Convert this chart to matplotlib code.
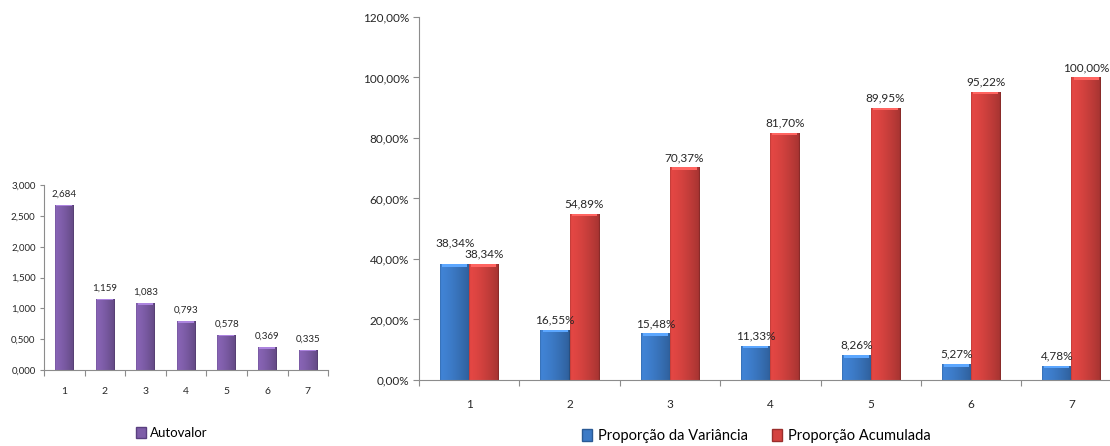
import numpy as np
import matplotlib
matplotlib.use("Agg")
import matplotlib.pyplot as plt
from matplotlib.colors import to_rgb
from matplotlib.patches import Patch

# data
componentes = ["1", "2", "3", "4", "5", "6", "7"]
autovalor = [2.684, 1.159, 1.083, 0.793, 0.578, 0.369, 0.335]
prop_variancia = [38.34, 16.55, 15.48, 11.33, 8.26, 5.27, 4.78]
prop_acumulada = [38.34, 54.89, 70.37, 81.70, 89.95, 95.22, 100.00]

PURPLE = "#7E5DA8"
BLUE = "#3C7AC6"
RED = "#D4423F"
AXIS = "#8C8C8C"
TEXT = "#262626"

plt.rcParams["font.family"] = ["Lato", "DejaVu Sans"]
NARROW = ["Liberation Sans Narrow", "Lato", "DejaVu Sans"]


def br(fmt_str):
    return fmt_str.replace(".", ",")


def shade_bars(ax, bars, color):
    """paints a left-to-right gradient plus a light top bevel into each bar"""
    base = np.array(to_rgb(color))
    xs = np.linspace(0, 1, 64)
    light = 1.08 - 0.30 * xs ** 1.4
    light[:2] *= 0.85
    light[-2:] *= 0.8
    img = np.clip(base[None, None, :] * light[None, :, None], 0, 1)
    ymax = ax.get_ylim()[1]
    for b in bars:
        x0, y0 = b.get_x(), b.get_y()
        w, h = b.get_width(), b.get_height()
        im = ax.imshow(img, extent=(x0, x0 + w, y0, y0 + h), aspect="auto",
                       zorder=b.get_zorder() + 0.1, interpolation="bilinear")
        im.set_clip_path(b)
        b.set_facecolor("none")
        # top bevel
        top = np.clip(base * 1.2 + 0.08, 0, 1)
        bh = ymax * 0.007
        ax.bar(x0 + w / 2, bh, width=w * 0.86, bottom=y0 + h - bh, color=top,
               zorder=b.get_zorder() + 0.2, linewidth=0)
    ax.set_xlim(ax.get_xlim())


fig = plt.figure(figsize=(11.1, 4.46), dpi=100)

# ---- left chart: autovalores
ax1 = fig.add_axes([0.0396, 0.170, 0.256, 0.415])
x = np.arange(len(componentes)) + 1
ax1.set_ylim(0, 3.0)
ax1.set_xlim(0.5, 7.5)
bars1 = ax1.bar(x, autovalor, width=0.45, color=PURPLE, linewidth=0, zorder=2)
shade_bars(ax1, bars1, PURPLE)
for xi, v in zip(x, autovalor):
    ax1.annotate(br(f"{v:.3f}"), (xi, v), xytext=(0, 4.5), textcoords="offset points",
                 ha="center", va="bottom", fontsize=7, color=TEXT, family=NARROW)
ax1.set_yticks(np.arange(0, 3.01, 0.5))
ax1.set_yticklabels([br(f"{t:.3f}") for t in np.arange(0, 3.01, 0.5)], family=NARROW)
ax1.set_xticks(np.arange(0.5, 7.6, 1), minor=False)
ax1.set_xticklabels([])
ax1.set_xticks(x, minor=True)
ax1.set_xticklabels(componentes, minor=True, family=NARROW)
ax1.tick_params(axis="x", which="major", length=4, color=AXIS, direction="out")
ax1.tick_params(axis="x", which="minor", length=0, pad=12, labelsize=7.5, labelcolor=TEXT)
ax1.tick_params(axis="y", length=3, color=AXIS, labelsize=7, labelcolor=TEXT, pad=3)
for s in ["top", "right"]:
    ax1.spines[s].set_visible(False)
for s in ["left", "bottom"]:
    ax1.spines[s].set_color(AXIS)
ax1.legend(handles=[Patch(facecolor=PURPLE, edgecolor="#5A3F80", label="Autovalor")],
           loc="center", bbox_to_anchor=(0.45, -0.34), frameon=False,
           prop={"family": NARROW, "size": 9.5},
           handlelength=0.7, handleheight=0.9, handletextpad=0.3)

# ---- right chart: proporções
ax2 = fig.add_axes([0.3775, 0.148, 0.633, 0.814])
ax2.set_ylim(0, 120)
ax2.set_xlim(0.5, 7.5)
w = 0.29
bars_v = ax2.bar(x - w / 2, prop_variancia, width=w, color=BLUE, linewidth=0, zorder=2)
bars_a = ax2.bar(x + w / 2, prop_acumulada, width=w, color=RED, linewidth=0, zorder=2)
shade_bars(ax2, bars_v, BLUE)
shade_bars(ax2, bars_a, RED)
for i, (xi, v) in enumerate(zip(x, prop_variancia)):
    off = 11 if i == 0 else 3
    ax2.annotate(br(f"{v:.2f}%"), (xi - w / 2, v), xytext=(0, off), textcoords="offset points",
                 ha="center", va="bottom", fontsize=8.5, color=TEXT, zorder=5)
for xi, v in zip(x, prop_acumulada):
    ax2.annotate(br(f"{v:.2f}%"), (xi + w / 2, v), xytext=(0, 3), textcoords="offset points",
                 ha="center", va="bottom", fontsize=8.5, color=TEXT, zorder=5)
yt = np.arange(0, 121, 20)
ax2.set_yticks(yt)
ax2.set_yticklabels([br(f"{t:.2f}%") for t in yt])
ax2.set_xticks(np.arange(0.5, 7.6, 1), minor=False)
ax2.set_xticklabels([])
ax2.set_xticks(x, minor=True)
ax2.set_xticklabels(componentes, minor=True)
ax2.tick_params(axis="x", which="major", length=4, color=AXIS, direction="out")
ax2.tick_params(axis="x", which="minor", length=0, pad=14, labelsize=8.5, labelcolor=TEXT)
ax2.tick_params(axis="y", length=4, color=AXIS, labelsize=8.5, labelcolor=TEXT, pad=3)
for s in ["top", "right"]:
    ax2.spines[s].set_visible(False)
for s in ["left", "bottom"]:
    ax2.spines[s].set_color(AXIS)
ax2.legend(handles=[Patch(facecolor=BLUE, edgecolor="#2A5A95", label="Proporção da Variância"),
                    Patch(facecolor=RED, edgecolor="#9A2E2C", label="Proporção Acumulada")],
           loc="center", ncol=2, bbox_to_anchor=(0.48, -0.155), frameon=False, fontsize=10.5,
           handlelength=0.7, handleheight=0.9, handletextpad=0.4, columnspacing=1.6)

fig.savefig("out.png", dpi=100)
